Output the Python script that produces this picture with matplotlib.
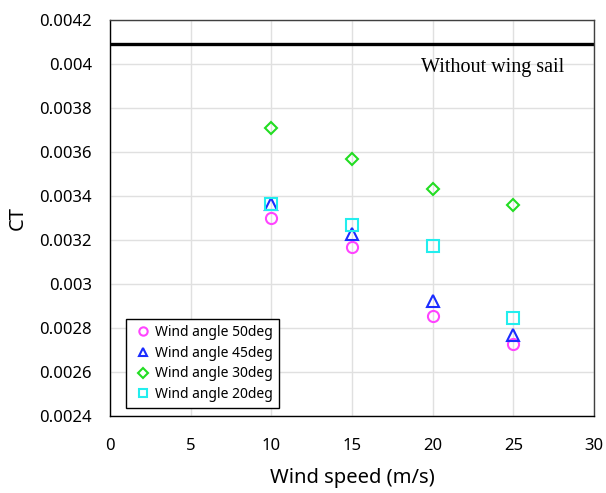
import matplotlib
matplotlib.use("Agg")
from matplotlib import pyplot as plt

plt.rcParams['font.family'] = ['Noto Sans', 'DejaVu Sans']

# wind speed (m/s)
speed = [10, 15, 20, 25]
# thrust coefficient for each wind angle
ct_50 = [0.003299, 0.003170, 0.002853, 0.002729]
ct_45 = [0.003364, 0.003226, 0.002921, 0.002768]
ct_30 = [0.003710, 0.003567, 0.003433, 0.003358]
ct_20 = [0.003364, 0.003267, 0.003174, 0.002845]
ct_no_sail = 0.00409

labels = ['Wind angle 50deg', 'Wind angle 45deg', 'Wind angle 30deg', 'Wind angle 20deg']
yticks = [0.0024, 0.0026, 0.0028, 0.003, 0.0032, 0.0034, 0.0036, 0.0038, 0.004, 0.0042]
ytick_labels = ['0.0024', '0.0026', '0.0028', '0.003', '0.0032', '0.0034',
                '0.0036', '0.0038', '0.004', '0.0042']

fig = plt.figure(figsize=(6.06, 4.93), dpi=100)
ax = fig.add_axes([0.1815, 0.1562, 0.7987, 0.8032])

ax.grid(True, color='#e0e0e0', linewidth=1.0, zorder=0)
ax.set_axisbelow(True)

ax.axhline(ct_no_sail, color='black', linewidth=2.4, zorder=2)
ax.text(23.7, 0.003982, 'Without wing sail', family='Liberation Serif',
        fontsize=14.5, ha='center', va='center')

mw = 1.5
ax.plot(speed, ct_50, 'o', mfc='none', mec='#ff44ff', mew=mw, ms=8, label=labels[0], zorder=3)
ax.plot(speed, ct_45, '^', mfc='none', mec='#1a2cff', mew=mw, ms=8, label=labels[1], zorder=3)
ax.plot(speed, ct_30, 'D', mfc='none', mec='#22dd22', mew=mw, ms=6.5, label=labels[2], zorder=3)
ax.plot(speed, ct_20, 's', mfc='none', mec='#22eeee', mew=mw, ms=8.5, label=labels[3], zorder=4)

ax.set_xlim(0, 30)
ax.set_ylim(0.0024, 0.0042)
ax.set_xticks([0, 5, 10, 15, 20, 25, 30])
ax.set_yticks(yticks)
ax.set_yticklabels(ytick_labels)
ax.tick_params(length=0, labelsize=12)
ax.tick_params(axis='x', pad=16)
ax.tick_params(axis='y', pad=13)

for s in ax.spines.values():
    s.set_color('#404040')
    s.set_linewidth(1.0)
ax.spines['left'].set_color('black')
ax.spines['bottom'].set_color('black')

ax.set_xlabel('Wind speed (m/s)', fontsize=14.5, labelpad=10)
ax.set_ylabel('CT', fontsize=14.5, labelpad=8)

leg = ax.legend(loc='lower left', bbox_to_anchor=(0.033, 0.02), fontsize=10,
                frameon=True, fancybox=False, edgecolor='black', framealpha=1,
                handlelength=1.6, handletextpad=0.1, borderpad=0.42, labelspacing=0.42,
                borderaxespad=0, markerscale=0.75)
leg.get_frame().set_linewidth(1.0)

fig.savefig('out.png', dpi=100)
